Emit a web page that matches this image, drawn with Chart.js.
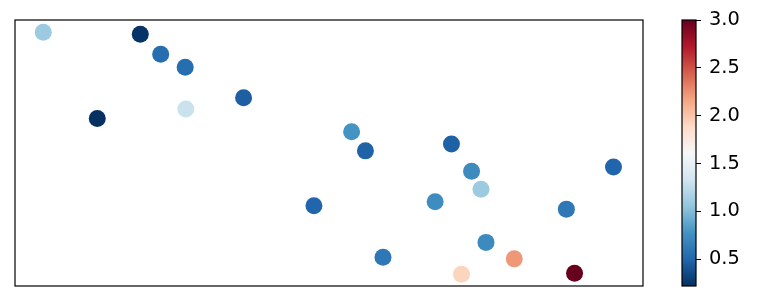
<!DOCTYPE html>
<html lang="en">

<head>
    <meta charset="UTF-8">
    <title>Scatter</title>
    <script src="https://cdn.jsdelivr.net/npm/chart.js"></script>
    <style>
        body {
            margin: 0;
            background: #fff;
        }

        #wrap {
            position: relative;
            width: 759px;
            height: 298px;
        }

        canvas {
            position: absolute;
            top: 0;
        }
    </style>
</head>

<body>
    <div id="wrap">
        <canvas id="grafico" width="650" height="298" style="left:0"></canvas>
        <canvas id="barraCores" width="109" height="298" style="left:650px"></canvas>
    </div>

    <script>
    // dados
    var posX = [4.5, 19.95, 23.2, 27.1, 36.4, 13.1, 27.2, 47.6, 53.6, 55.8, 69.5,
                72.7, 74.2, 66.9, 95.3, 87.8, 58.6, 75.0, 79.5, 71.1, 89.1];
    var posY = [95.4, 94.6, 87.1, 82.2, 70.8, 63.0, 66.5, 30.2, 58.0, 50.8, 53.4,
                43.1, 36.4, 31.7, 44.7, 28.9, 10.8, 16.4, 10.2, 4.4, 4.8];
    var valores = [1.1, 0.24, 0.55, 0.55, 0.46, 0.22, 1.3, 0.5, 0.78, 0.48, 0.47,
                   0.72, 1.1, 0.74, 0.5, 0.61, 0.61, 0.72, 2.22, 1.92, 3.0];
    var ticksBarra = [0.5, 1.0, 1.5, 2.0, 2.5, 3.0];
    var vMin = 0.22;
    var vMax = 3.0;

    // RdBu_r (do azul escuro ao vermelho escuro)
    var coresMapa = ['#053061', '#2166ac', '#4393c3', '#92c5de', '#d1e5f0', '#f7f7f7',
                     '#fddbc7', '#f4a582', '#d6604d', '#b2182b', '#67001f'];

    function hexParaRgb(h) {
        return [parseInt(h.substr(1, 2), 16), parseInt(h.substr(3, 2), 16), parseInt(h.substr(5, 2), 16)];
    }

    function corDoValor(v) {
        var t = (v - vMin) / (vMax - vMin);
        if (t < 0) t = 0;
        if (t > 1) t = 1;
        var pos = t * (coresMapa.length - 1);
        var i = Math.min(Math.floor(pos), coresMapa.length - 2);
        var f = pos - i;
        var a = hexParaRgb(coresMapa[i]);
        var b = hexParaRgb(coresMapa[i + 1]);
        var r = Math.round(a[0] + (b[0] - a[0]) * f);
        var g = Math.round(a[1] + (b[1] - a[1]) * f);
        var bl = Math.round(a[2] + (b[2] - a[2]) * f);
        return 'rgb(' + r + ',' + g + ',' + bl + ')';
    }

    var pontos = [];
    var coresPontos = [];
    for (var i = 0; i < posX.length; i++) {
        pontos.push({ x: posX[i], y: posY[i] });
        coresPontos.push(corDoValor(valores[i]));
    }

    // moldura preta em volta da área do gráfico
    var moldura = {
        id: 'moldura',
        afterDraw: function (chart) {
            var a = chart.chartArea;
            var ctx = chart.ctx;
            ctx.save();
            ctx.strokeStyle = '#000';
            ctx.lineWidth = 1.2;
            ctx.strokeRect(a.left, a.top, a.right - a.left, a.bottom - a.top);
            ctx.restore();
        }
    };

    Chart.defaults.font.family = 'DejaVu Sans';
    Chart.defaults.color = '#000';

    var grafico = new Chart(document.getElementById('grafico').getContext('2d'), {
        type: 'scatter',
        data: {
            datasets: [{
                data: pontos,
                backgroundColor: coresPontos,
                borderWidth: 0,
                pointRadius: 8.5,
                pointHoverRadius: 8.5
            }]
        },
        options: {
            responsive: false,
            animation: false,
            devicePixelRatio: 1,
            layout: { autoPadding: false, padding: { left: 15, top: 20, right: 7, bottom: 12 } },
            plugins: { legend: { display: false }, tooltip: { enabled: false } },
            scales: {
                x: { display: false, min: 0, max: 100 },
                y: { display: false, min: 0, max: 100 }
            }
        },
        plugins: [moldura]
    });

    // barra de cores: uma barra flutuante de vMin a vMax com gradiente
    var barra = new Chart(document.getElementById('barraCores').getContext('2d'), {
        type: 'bar',
        data: {
            labels: ['cb'],
            datasets: [{
                data: [[vMin, vMax]],
                barPercentage: 1,
                categoryPercentage: 1,
                borderWidth: 0,
                backgroundColor: function (context) {
                    var chart = context.chart;
                    var a = chart.chartArea;
                    if (!a) return coresMapa[0];
                    var y0 = chart.scales.y.getPixelForValue(vMin);
                    var y1 = chart.scales.y.getPixelForValue(vMax);
                    if (!isFinite(y0) || !isFinite(y1)) return coresMapa[0];
                    var grad = chart.ctx.createLinearGradient(0, y0, 0, y1);
                    for (var k = 0; k < coresMapa.length; k++) {
                        grad.addColorStop(k / (coresMapa.length - 1), coresMapa[k]);
                    }
                    return grad;
                }
            }]
        },
        options: {
            responsive: false,
            animation: false,
            devicePixelRatio: 1,
            layout: { autoPadding: false, padding: { left: 32, top: 20, right: 0, bottom: 12 } },
            plugins: { legend: { display: false }, tooltip: { enabled: false } },
            scales: {
                x: { display: false },
                y: {
                    position: 'right',
                    min: vMin,
                    max: vMax,
                    afterBuildTicks: function (escala) {
                        escala.ticks = ticksBarra.map(function (v) { return { value: v }; });
                    },
                    afterFit: function (escala) {
                        // largura fixa e sem espaço extra por causa dos rótulos
                        escala.width = 63;
                        escala.paddingTop = 0;
                        escala.paddingBottom = 0;
                    },
                    ticks: {
                        font: { size: 19.4 },
                        padding: 8,
                        callback: function (v) { return Number(v).toFixed(1); }
                    },
                    grid: {
                        drawOnChartArea: false,
                        drawTicks: true,
                        tickLength: 5,
                        color: '#000',
                        lineWidth: 1
                    },
                    border: { display: false }
                }
            }
        },
        plugins: [moldura]
    });
    </script>
</body>

</html>
